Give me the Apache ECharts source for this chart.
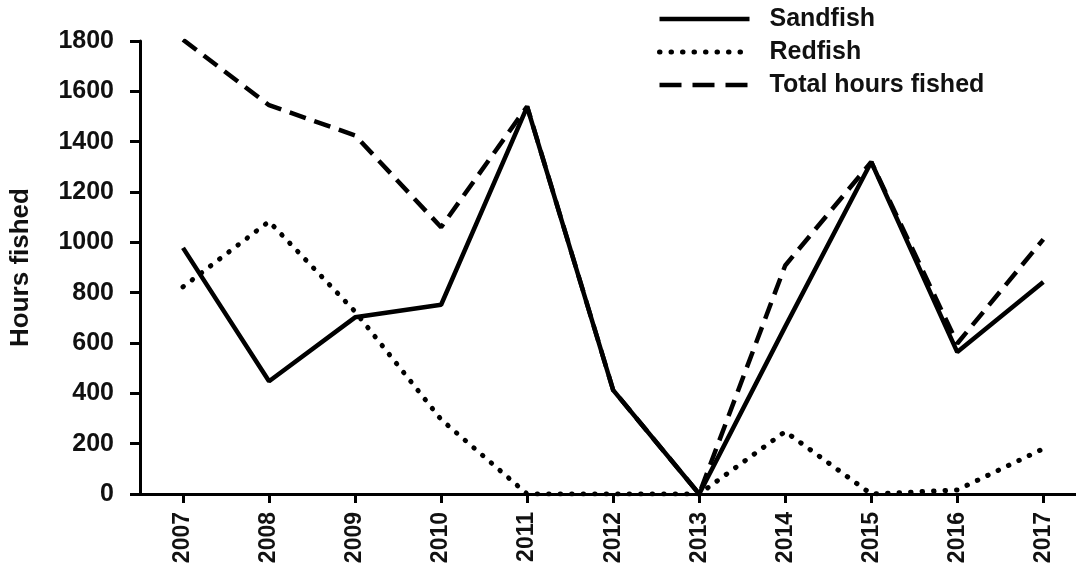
<!DOCTYPE html>
<html>
<head>
<meta charset="utf-8">
<script src="https://cdn.jsdelivr.net/npm/echarts@6/dist/echarts.min.js"></script>
<style>
  html, body { margin: 0; padding: 0; background: #fff; }
  #chart { width: 1076px; height: 572px; }
</style>
</head>
<body>
<div id="chart"></div>
<script>
// data
const years = [2007, 2008, 2009, 2010, 2011, 2012, 2013, 2014, 2015, 2016, 2017];
const sandfish = [978, 448, 702, 752, 1538, 413, 0, 665, 1319, 564, 842];
const redfish = [823, 1083, 725, 296, 0, 0, 0, 248, 0, 16, 180];
const totalHours = [1805, 1545, 1425, 1060, 1540, 413, 0, 908, 1319, 598, 1012];
const yTicks = [0, 200, 400, 600, 800, 1000, 1200, 1400, 1600, 1800];

const FONT = '"Liberation Sans", Arial, sans-serif';

const pairs = arr => years.map((y, i) => [y, arr[i]]);

// line looks shared by the series and their legend entries
const solidLine = { color: '#000', width: 4.5, type: 'solid' };
const dotLine = { color: '#000', width: 5, type: [0.5, 11], cap: 'round' };
const dashLine = { color: '#000', width: 4.5, type: [17, 9] };

const chart = echarts.init(document.getElementById('chart'));

const option = {
  animation: false,
  backgroundColor: '#fff',
  grid: { left: 139, right: 0, top: 41, bottom: 78 },
  legend: {
    orient: 'vertical',
    left: 652,
    top: 1,
    itemWidth: 90,
    itemHeight: 20,
    itemGap: 7,
    itemStyle: { opacity: 0 },
    textStyle: { fontFamily: FONT, fontWeight: 'bold', fontSize: 25, color: '#111', lineHeight: 26, padding: [0, 0, 0, 15] },
    data: [
      { name: 'Sandfish', lineStyle: solidLine },
      { name: 'Redfish', lineStyle: dotLine },
      { name: 'Total hours fished', lineStyle: { ...dashLine, type: [22, 11] } }
    ]
  },
  xAxis: {
    type: 'value',
    min: 2006.5,
    max: 2017.38,
    splitLine: { show: false },
    axisLine: { lineStyle: { color: '#000', width: 3 } },
    axisTick: { customValues: years, length: 9, lineStyle: { color: '#000', width: 3 } },
    axisLabel: {
      customValues: years,
      formatter: v => String(v),
      rotate: 90,
      margin: 18,
      fontFamily: FONT,
      fontWeight: 'bold',
      fontSize: 23,
      color: '#111'
    }
  },
  yAxis: {
    type: 'value',
    min: 0,
    max: 1800,
    interval: 200,
    name: 'Hours fished',
    nameLocation: 'middle',
    nameRotate: 90,
    nameGap: 106,
    nameTextStyle: { fontFamily: FONT, fontWeight: 'bold', fontSize: 26, color: '#111' },
    splitLine: { show: false },
    axisLine: { show: true, lineStyle: { color: '#000', width: 3 } },
    axisTick: { show: true, length: 10, lineStyle: { color: '#000', width: 3 } },
    axisLabel: {
      margin: 26,
      formatter: v => String(v),
      fontFamily: FONT,
      fontWeight: 'bold',
      fontSize: 25,
      color: '#111',
      customValues: yTicks
    }
  },
  series: [
    {
      name: 'Sandfish',
      type: 'line',
      symbol: 'none',
      data: pairs(sandfish),
      lineStyle: solidLine,
      itemStyle: { color: '#000' },
      z: 3
    },
    {
      name: 'Redfish',
      type: 'line',
      symbol: 'none',
      data: pairs(redfish),
      lineStyle: dotLine,
      itemStyle: { color: '#000' },
      z: 2
    },
    {
      name: 'Total hours fished',
      type: 'line',
      symbol: 'none',
      data: pairs(totalHours),
      lineStyle: dashLine,
      itemStyle: { color: '#000' },
      z: 2
    }
  ]
};

chart.setOption(option);
</script>
</body>
</html>
